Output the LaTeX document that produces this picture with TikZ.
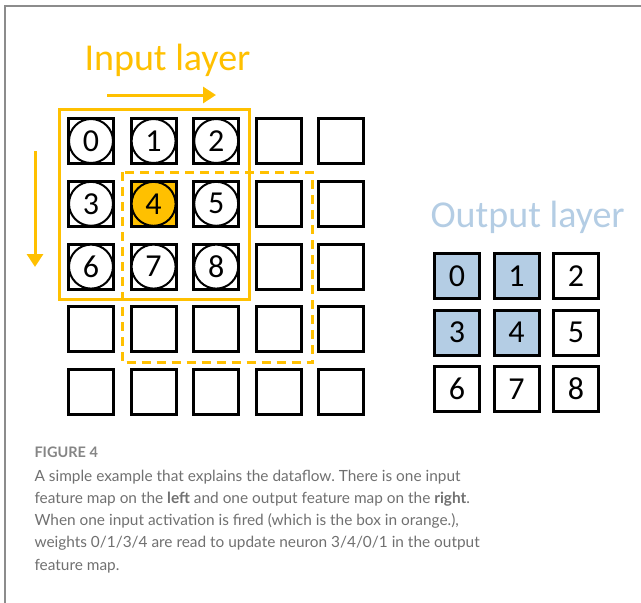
\documentclass[tikz,border=0pt]{standalone}
\usepackage{fontspec}
\setmainfont{Carlito}
\newfontfamily\capfont{Lato}
\usetikzlibrary{arrows.meta,positioning}
\definecolor{actorange}{HTML}{FFC000}
\definecolor{outblue}{RGB}{180,205,228}
\definecolor{capgrey}{RGB}{112,112,112}
\definecolor{framegrey}{RGB}{140,140,140}
\frenchspacing
\tikzset{cell/.style = {draw, line width=3pt, minimum size=45pt, inner sep=0pt, font=\fontsize{32}{32}\selectfont},
         weight/.style = {draw, circle, line width=2pt, minimum size=44pt, inner sep=0pt, font=\fontsize{32}{32}\selectfont},
         window/.style = {draw=actorange, line width=3pt},
         scan/.style = {draw=actorange, line width=3pt, -{Triangle[length=13pt,width=16pt]}},
         layer/.style = {anchor=base west, font=\fontsize{38}{40}\selectfont},
         caption/.style = {anchor=base west, text=capgrey, font=\capfont\fontsize{15.4}{22}\selectfont},
}

\begin{document}
\begin{tikzpicture}[x=1pt, y=-1pt]
  \useasboundingbox (0,0) rectangle (641,603);
  \draw[framegrey, line width=2pt] (4.5,603) |- (641,5.5);

  \node[layer, text=actorange] (inlabel) at (81,70) {Input layer};
  \node[layer, text=outblue] (outlabel) at (427,227) {Output layer};

  % input feature map, 5x5
  \foreach \r in {0,...,4}
    \foreach \c in {0,...,4}{
      \ifnum\r\c=11 \def\cellfill{actorange}\else\def\cellfill{white}\fi
      \node[cell, fill=\cellfill] (in-\r-\c) at (91+62.6*\c, 141+62.8*\r) {};
    }

  % weights on the top left 3x3
  \foreach \k in {0,...,8}{
    \pgfmathtruncatemacro\r{int(\k/3)}
    \pgfmathtruncatemacro\c{mod(\k,3)}
    \ifnum\k=4 \def\wfill{actorange}\else\def\wfill{white}\fi
    \node[weight, fill=\wfill] (w-\k) at (in-\r-\c) {\k};
  }

  % output feature map, 3x3
  \foreach \k in {0,...,8}{
    \pgfmathtruncatemacro\r{int(\k/3)}
    \pgfmathtruncatemacro\c{mod(\k,3)}
    \def\ofill{white}
    \ifnum\r<2 \ifnum\c<2 \def\ofill{outblue}\fi\fi
    \node[cell, fill=\ofill] (out-\k) at (457+59.5*\c, 276+56.5*\r) {\k};
  }

  % sliding windows
  \draw[window] ([shift={(-8,-8)}]in-0-0.north west) rectangle ([shift={(9,9)}]in-2-2.south east);
  \draw[window, dash pattern=on 9pt off 6pt] ([shift={(-7.5,-7.5)}]in-1-1.north west) rectangle ([shift={(9.5,9.5)}]in-3-3.south east);

  % scan direction
  \coordinate (rowstart) at (107,95);
  \coordinate (rowend) at (216,95);
  \coordinate (colstart) at (35,151);
  \coordinate (colend) at (35,267);
  \draw[scan] (rowstart) -- (rowend);
  \draw[scan] (colstart) -- (colend);

  \node[caption, font=\capfont\fontsize{14.5}{16}\selectfont\bfseries, text=capgrey!85] (fig) at (31,457) {FIGURE 4};
  \node[caption] (cap1) at (31,481) {A simple example that explains the dataflow. There is one input};
  \node[caption] (cap2) at (31,503.3) {feature map on the \textbf{left} and one output feature map on the \textbf{right}.};
  \node[caption] (cap3) at (31,525.6) {When one input activation is fired (which is the box in orange.),};
  \node[caption] (cap4) at (31,547.9) {weights 0/1/3/4 are read to update neuron 3/4/0/1 in the output};
  \node[caption] (cap5) at (31,570.2) {feature map.};
\end{tikzpicture}
\end{document}
